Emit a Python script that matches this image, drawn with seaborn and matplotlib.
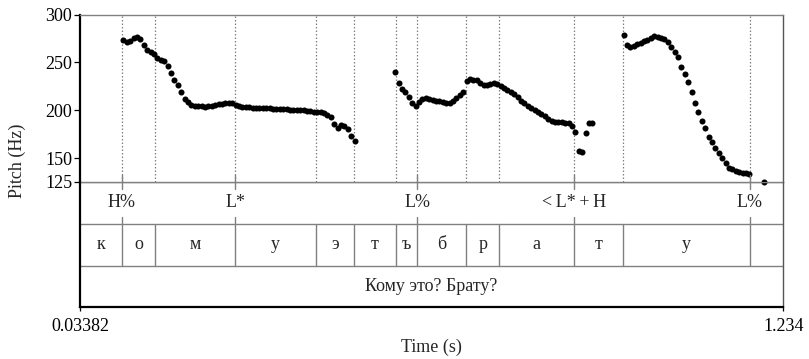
import numpy as np
import pandas as pd
import matplotlib
matplotlib.use("Agg")
import matplotlib.pyplot as plt
import seaborn as sns

# ---------------- data ----------------
T_START, T_END = 0.03382, 1.234
pitch_ticks = [125, 150, 200, 250, 300]

time_a = [0.1080, 0.1138, 0.1196, 0.1254, 0.1312, 0.1370, 0.1428, 0.1486, 0.1544, 0.1602,
          0.1660, 0.1718, 0.1776, 0.1834, 0.1892, 0.1950, 0.2008, 0.2066, 0.2124, 0.2182,
          0.2240, 0.2298, 0.2356, 0.2414, 0.2472, 0.2530, 0.2588, 0.2646, 0.2704, 0.2762,
          0.2820, 0.2878, 0.2936, 0.2994, 0.3052, 0.3110, 0.3168, 0.3226, 0.3284, 0.3342,
          0.3400, 0.3458, 0.3516, 0.3574, 0.3632, 0.3690, 0.3748, 0.3806, 0.3864, 0.3922,
          0.3980, 0.4038, 0.4096, 0.4154, 0.4212, 0.4270, 0.4328, 0.4386, 0.4444, 0.4502,
          0.4560, 0.4618, 0.4676, 0.4734, 0.4792, 0.4850, 0.4908, 0.4966, 0.5024]
pitch_a = [274, 271.5, 273, 275.5, 276.5, 274.5, 268.5, 263, 260.5, 259,
           255, 253, 252, 246, 239, 232, 226, 219, 212, 209,
           205.8, 204.8, 204.4, 204.1, 203.9, 204.1, 204.6, 205.3, 206.2, 207,
           207.6, 207.7, 207.2, 206, 204.6, 203.8, 203.4, 203.1, 202.9, 202.7,
           202.5, 202.3, 202.1, 201.9, 201.7, 201.5, 201.3, 201.1, 201, 200.8,
           200.6, 200.4, 200.2, 199.9, 199.5, 199.1, 198.7, 198.3, 197.8, 197,
           195.5, 193, 186, 182, 184.5, 183.5, 180.5, 173, 168]

time_b = [0.5717, 0.5775, 0.5833, 0.5891, 0.5949, 0.6007, 0.6065, 0.6123, 0.6181, 0.6239,
          0.6297, 0.6355, 0.6413, 0.6471, 0.6529, 0.6587, 0.6645, 0.6703, 0.6761, 0.6819,
          0.6877, 0.6935, 0.6993, 0.7051, 0.7109, 0.7167, 0.7225, 0.7283, 0.7341, 0.7399,
          0.7457, 0.7515, 0.7573, 0.7631, 0.7689, 0.7747, 0.7805, 0.7863, 0.7921, 0.7979,
          0.8037, 0.8095, 0.8153, 0.8211, 0.8269, 0.8327, 0.8385, 0.8443, 0.8501, 0.8559,
          0.8617, 0.8675, 0.8733, 0.8791, 0.8849, 0.8907, 0.8965, 0.9023, 0.9081]
pitch_b = [240.4, 229, 222, 219, 214, 207.5, 205, 209, 212, 212.6,
           212.3, 210.8, 209.3, 209.8, 208.8, 207.3, 207.5, 209.8, 212.5, 216,
           219, 231, 232.4, 231.7, 231.2, 228.5, 226.5, 226.5, 227.8, 228.3,
           227.5, 225.8, 223.8, 221.6, 219, 217, 214, 210, 207.7, 204.8,
           202.2, 200.4, 198.5, 196.4, 194, 191.4, 189.3, 188.1, 188.1, 187.7,
           187, 186.2, 183.9, 177.5, 157.5, 156.7, 176.5, 187, 187]

time_c = [0.9615, 0.9673, 0.9731, 0.9789, 0.9847, 0.9905, 0.9963, 1.0021, 1.0079, 1.0137,
          1.0195, 1.0253, 1.0311, 1.0369, 1.0427, 1.0485, 1.0543, 1.0601, 1.0659, 1.0717,
          1.0775, 1.0833, 1.0891, 1.0949, 1.1007, 1.1065, 1.1123, 1.1181, 1.1239, 1.1297,
          1.1355, 1.1413, 1.1471, 1.1529, 1.1587, 1.1645, 1.1703, 1.1761, 1.2017]
pitch_c = [278.8, 268.3, 265.8, 266.8, 269, 270.8, 272.2, 273.7, 275.5, 277.5,
           277, 275.9, 274.5, 271, 266, 261.5, 256, 245, 238, 229.5,
           219, 208, 198, 188.5, 181.2, 172.4, 167.2, 160.2, 155, 149.8,
           145, 140, 138.5, 137, 135.2, 134.2, 134, 133.5, 125.3]

# tone tier (point tier)
tone_times = [0.1055, 0.2985, 0.6097, 0.8773, 1.1766]
tone_labels = ["H%", "L*", "L%", "<\u2009L*\u2009+\u2009H", "L%"]

# segment tier (interval tier)
seg_bounds = [0.1055, 0.1624, 0.2985, 0.4362, 0.5011, 0.5728, 0.6097,
              0.6929, 0.7492, 0.8773, 0.9597, 1.1766]
seg_labels = ["к", "о", "м", "у", "э", "т", "ъ", "б", "р", "а", "т", "у", ""]

# sentence tier
sentence = "Кому это? Брату?"

# ---------------- style ----------------
sns.set_style("white")
plt.rcParams['font.family'] = ['Liberation Serif', 'DejaVu Serif']
FS = 13
GRAY = "#808080"

W, H = 809, 359
fig = plt.figure(figsize=(W / 100, H / 100), dpi=100)

x0, x1 = 80, 783.3
y_top, y_125, y_bot = 14.7, 182.0, 307.3
ax_p = fig.add_axes([x0 / W, 1 - y_125 / H, (x1 - x0) / W, (y_125 - y_top) / H])
ax_t = fig.add_axes([x0 / W, 1 - y_bot / H, (x1 - x0) / W, (y_bot - y_125) / H])
ax_t.patch.set_alpha(0)

df = pd.DataFrame({
    "time": time_a + time_b + time_c,
    "pitch": pitch_a + pitch_b + pitch_c,
})

# pitch panel
for b in seg_bounds:
    ax_p.axvline(b, color=GRAY, lw=0.9, ls=(0, (1.2, 1.6)), zorder=1)
sns.scatterplot(data=df, x="time", y="pitch", ax=ax_p, color="black", s=19,
                linewidth=0, zorder=3, clip_on=False, legend=False)
ax_p.set_xlim(T_START, T_END)
ax_p.set_ylim(125, 300)
ax_p.set_yticks(pitch_ticks)
ax_p.set_yticklabels([str(v) for v in pitch_ticks])
ax_p.set_xticks([])
ax_p.tick_params(axis="y", direction="out", length=4.5, width=0.9, pad=1,
                 labelsize=FS, left=True, colors="black")
ax_p.set_xlabel("")
ax_p.set_ylabel("")
for side in ["top", "bottom"]:
    ax_p.spines[side].set_color(GRAY)
    ax_p.spines[side].set_linewidth(1.0)
ax_p.spines["right"].set_color("#555555")
ax_p.spines["right"].set_linewidth(1.0)
ax_p.spines["left"].set_color("black")
ax_p.spines["left"].set_linewidth(1.6)

# tier panel
ax_t.set_xlim(T_START, T_END)
ax_t.set_ylim(0, 3)
ax_t.set_yticks([])
ax_t.axhline(3, color=GRAY, lw=1.0)
ax_t.axhline(2, color=GRAY, lw=1.0)
ax_t.axhline(1, color=GRAY, lw=1.0)
tick_len = 0.17
for t, lab in zip(tone_times, tone_labels):
    ax_t.plot([t, t], [3 - tick_len, 3 + tick_len], color=GRAY, lw=1.0, clip_on=False)
    ax_t.plot([t, t], [2, 2 + tick_len], color=GRAY, lw=1.0)
    ax_t.text(t, 2.5, lab, ha="center", va="center", fontsize=FS)
edges = [T_START] + seg_bounds + [T_END]
for b in seg_bounds:
    ax_t.plot([b, b], [1, 2], color=GRAY, lw=1.0)
for lab, a, b in zip(seg_labels, edges[:-1], edges[1:]):
    ax_t.text((a + b) / 2, 1.5, lab, ha="center", va="center", fontsize=FS)
ax_t.text((T_START + T_END) / 2, 0.5, sentence, ha="center", va="center", fontsize=FS)

ax_t.set_xticks([T_START, T_END])
ax_t.set_xticklabels(["0.03382", "1.234"])
ax_t.tick_params(axis="x", direction="out", length=3, width=0.9, pad=5,
                 labelsize=FS, bottom=True, colors="black")
ax_t.spines["top"].set_visible(False)
ax_t.spines["right"].set_color("#555555")
ax_t.spines["right"].set_linewidth(1.0)
ax_t.spines["left"].set_color("black")
ax_t.spines["left"].set_linewidth(1.6)
ax_t.spines["bottom"].set_color("black")
ax_t.spines["bottom"].set_linewidth(1.6)

fig.text(431.5 / W, 1 - 347 / H, "Time (s)", ha="center", va="center", fontsize=FS)
fig.text(17 / W, 1 - 161 / H, "Pitch (Hz)", ha="center", va="center",
         rotation=90, fontsize=FS)

fig.savefig("out.png", dpi=100)
